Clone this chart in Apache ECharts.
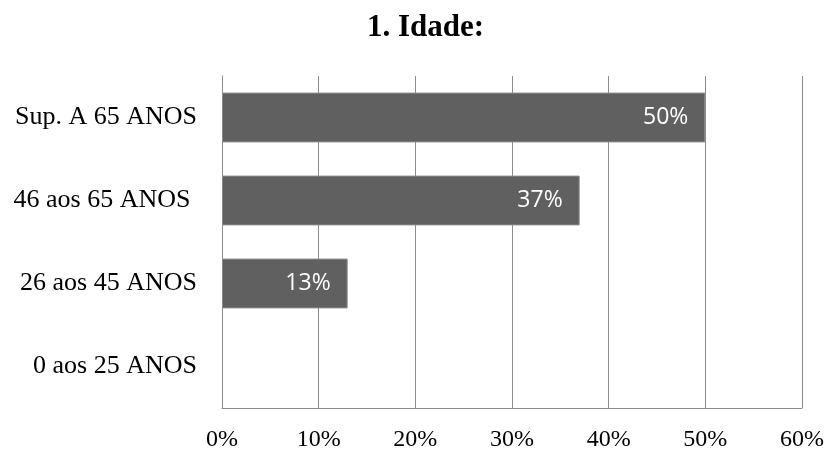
<!DOCTYPE html>
<html>
<head>
<meta charset="utf-8">
<script src="https://cdn.jsdelivr.net/npm/echarts@6/dist/echarts.min.js"></script>
<style>
  html, body { margin: 0; padding: 0; background: #fff; }
  #chart { width: 825px; height: 451px; }
</style>
</head>
<body>
<div id="chart"></div>
<script>
// Age groups (bottom to top) and share of respondents in each, in percent
const categories = ['0 aos 25 ANOS', '26 aos 45 ANOS', '46 aos 65 ANOS ', 'Sup. A 65 ANOS'];
const shares = [0, 13, 37, 50];
const xTicks = [0, 10, 20, 30, 40, 50, 60];

// Empty groups get no outline so no sliver is drawn on the axis
const barData = shares.map(v => ({
  value: v,
  itemStyle: { borderWidth: v > 0 ? 1 : 0 }
}));

const chart = echarts.init(document.getElementById('chart'));
chart.setOption({
  animation: false,
  backgroundColor: '#ffffff',
  title: {
    text: '1. Idade:',
    left: 362,
    top: 7,
    textStyle: {
      fontFamily: 'Liberation Serif',
      fontWeight: 'bold',
      fontSize: 31,
      color: '#000'
    }
  },
  grid: { left: 222, right: 23, top: 76, bottom: 43, outerBoundsMode: 'none', containLabel: false },
  xAxis: {
    type: 'value',
    min: xTicks[0],
    max: xTicks[xTicks.length - 1],
    interval: 10,
    axisLine: { show: true, lineStyle: { color: '#8c8c8c', width: 1 } },
    axisTick: { show: false },
    splitLine: { show: true, lineStyle: { color: '#8c8c8c', width: 1 } },
    axisLabel: {
      formatter: v => v + '%',
      fontFamily: 'Liberation Serif',
      fontSize: 24,
      color: '#000',
      margin: 20
    }
  },
  yAxis: {
    type: 'category',
    data: categories,
    axisLine: { show: true, lineStyle: { color: '#8c8c8c', width: 1 } },
    axisTick: { show: false },
    axisLabel: {
      fontFamily: 'Liberation Serif',
      fontSize: 26,
      color: '#000',
      margin: 25
    }
  },
  series: [{
    type: 'bar',
    data: barData,
    barCategoryGap: '40%',
    itemStyle: { color: '#606060', borderColor: '#8a8a8a' },
    label: {
      show: true,
      position: 'insideRight',
      distance: 17,
      formatter: p => (p.value > 0 ? p.value + '%' : ''),
      fontFamily: 'Open Sans',
      fontSize: 23,
      color: '#ffffff'
    }
  }]
});
</script>
</body>
</html>
